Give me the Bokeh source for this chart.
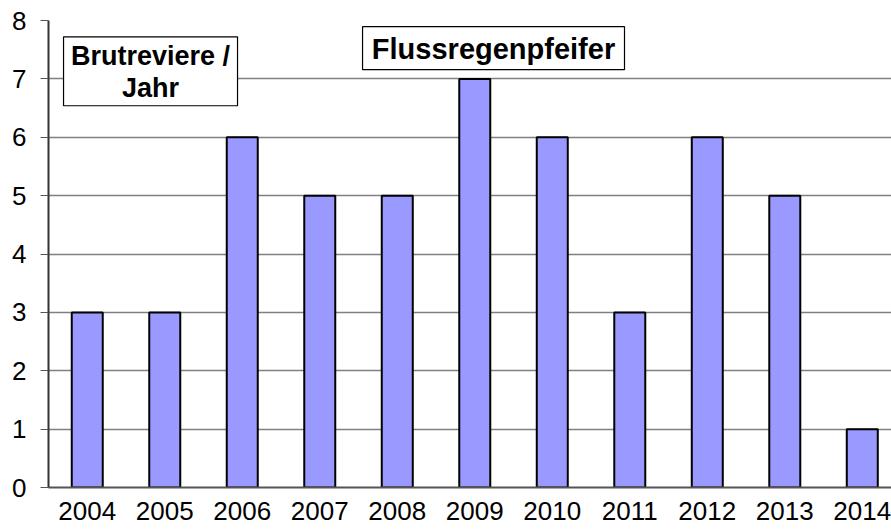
from bokeh.plotting import figure
from bokeh.models import Range1d, FixedTicker, BoxAnnotation, Label
from bokeh.embed import file_html
from bokeh.resources import INLINE

years = [2004, 2005, 2006, 2007, 2008, 2009, 2010, 2011, 2012, 2013, 2014]
counts = [3, 3, 6, 5, 5, 7, 6, 3, 6, 5, 1]
y_ticks = [0, 1, 2, 3, 4, 5, 6, 7, 8]
title_text = "Flussregenpfeifer"
unit_lines = ["Brutreviere /", "Jahr"]

FONT = "Liberation Sans"

p = figure(width=891, height=531, output_backend="svg", toolbar_location=None,
           x_range=Range1d(2003.5, 2014.377), y_range=Range1d(0, 8),
           min_border_left=48, min_border_right=0, min_border_top=20, min_border_bottom=44)
p.outline_line_color = None
p.background_fill_color = "white"

p.vbar(x=years, top=counts, width=0.4, bottom=0,
       fill_color="#9999FF", line_color="black", line_width=2)

# axes
p.xaxis.ticker = FixedTicker(ticks=years)
p.xaxis.major_label_overrides = {y: str(y) for y in years}
p.xaxis.major_tick_line_color = None
p.xaxis.minor_tick_line_color = None
p.xaxis.axis_line_color = "#555555"
p.xaxis.axis_line_width = 2
p.xaxis.major_label_text_font = FONT
p.xaxis.major_label_text_font_size = "26px"
p.xaxis.major_label_text_color = "black"
p.xaxis.major_label_standoff = 8

p.yaxis.ticker = FixedTicker(ticks=y_ticks)
p.yaxis.major_tick_out = 8
p.yaxis.major_tick_in = 0
p.yaxis.major_tick_line_color = "#555555"
p.yaxis.minor_tick_line_color = None
p.yaxis.axis_line_color = "#333333"
p.yaxis.axis_line_width = 2
p.yaxis.major_label_text_font = FONT
p.yaxis.major_label_text_font_size = "26px"
p.yaxis.major_label_text_color = "black"
p.yaxis.major_label_standoff = 14

p.xgrid.grid_line_color = None
p.ygrid.grid_line_color = "#808080"
p.ygrid.grid_line_width = 1.5

# label boxes
p.add_layout(BoxAnnotation(left=2003.694, right=2005.939, bottom=6.54, top=7.72,
                           fill_color="white", fill_alpha=1, line_color="black",
                           line_alpha=1, line_width=1.2))
p.add_layout(Label(x=2004.816, y=7.39, text=unit_lines[0], text_font=FONT, text_font_size="27px",
                   text_font_style="bold", text_color="black",
                   text_align="center", text_baseline="middle"))
p.add_layout(Label(x=2004.816, y=6.84, text=unit_lines[1], text_font=FONT, text_font_size="27px",
                   text_font_style="bold", text_color="black",
                   text_align="center", text_baseline="middle"))

p.add_layout(BoxAnnotation(left=2007.552, right=2010.932, bottom=7.158, top=7.894,
                           fill_color="white", fill_alpha=1, line_color="black",
                           line_alpha=1, line_width=1.2))
p.add_layout(Label(x=2009.242, y=7.52, text=title_text, text_font=FONT, text_font_size="29px",
                   text_font_style="bold", text_color="black",
                   text_align="center", text_baseline="middle"))

open("out.html", "w").write(file_html(p, INLINE))
